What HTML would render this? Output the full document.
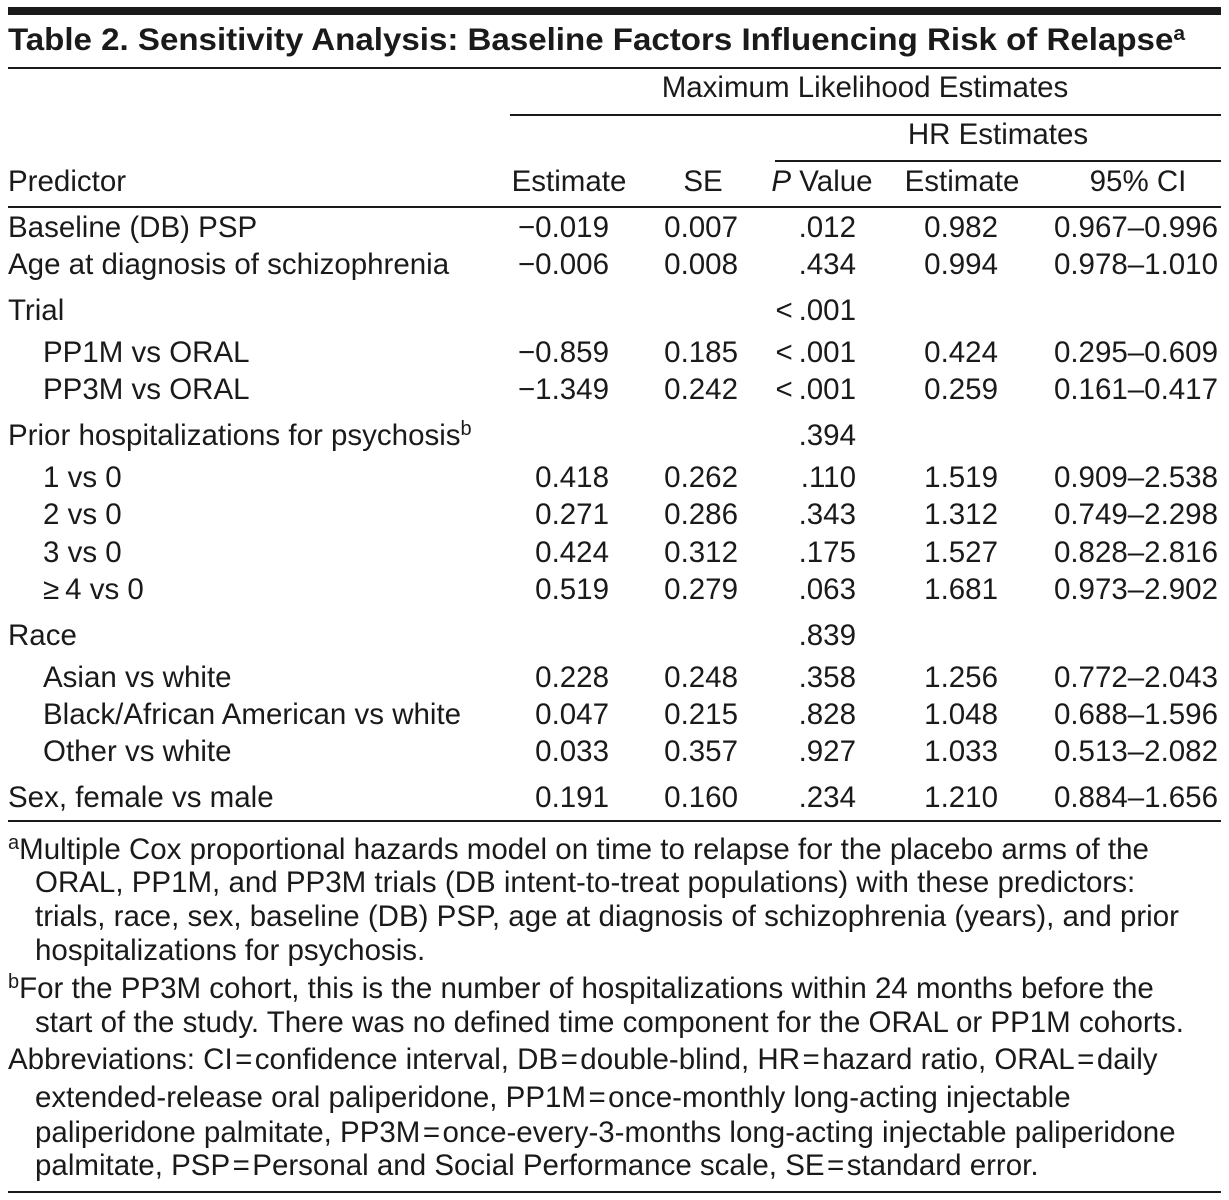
<!DOCTYPE html>
<html><head><meta charset="utf-8"><style>
body{margin:0;background:#fff;width:1229px;height:1200px;position:relative;overflow:hidden;font-family:"Liberation Sans",sans-serif;color:#1a1a1a}
.t,.r,.c{position:absolute;white-space:nowrap;font-size:29.5px;line-height:34px;transform:scaleX(1.0)}
.t{transform-origin:left center}
.r{transform-origin:right center}
.c{transform-origin:center center;text-align:center;width:500px;margin-left:-250px}
.h{position:absolute;background:#1a1a1a}
sup{font-size:20px;vertical-align:10px;line-height:0}
</style></head><body>
<div class="h" style="left:8px;top:7px;width:1213px;height:8px"></div>
<div class="t" style="left:8px;top:19px;font-size:31.5px;line-height:40px;font-weight:bold;transform:scaleX(1.05)">Table 2. Sensitivity Analysis: Baseline Factors Influencing Risk of Relapse<sup>a</sup></div>
<div class="h" style="left:8px;top:67px;width:1213px;height:2px"></div>
<div class="c" style="left:865px;top:71px">Maximum Likelihood Estimates</div>
<div class="h" style="left:510px;top:114px;width:711px;height:2px"></div>
<div class="c" style="left:998px;top:118px">HR Estimates</div>
<div class="h" style="left:775px;top:160px;width:446px;height:2px"></div>
<div class="t" style="left:8px;top:165px">Predictor</div>
<div class="c" style="left:569px;top:165px">Estimate</div>
<div class="c" style="left:703px;top:165px">SE</div>
<div class="c" style="left:822px;top:165px"><i>P</i> Value</div>
<div class="c" style="left:962px;top:165px">Estimate</div>
<div class="c" style="left:1138px;top:165px">95% CI</div>
<div class="h" style="left:8px;top:206px;width:1213px;height:2px"></div>

<div id="rows"></div>
<script>
var R=[[228,"Baseline (DB) PSP",0,"\u22120.019","0.007",".012","0.982","0.967\u20130.996"],
[265,"Age at diagnosis of schizophrenia",0,"\u22120.006","0.008",".434","0.994","0.978\u20131.010"],
[311,"Trial",0,"","","<\u2009.001","",""],
[353,"PP1M vs ORAL",1,"\u22120.859","0.185","<\u2009.001","0.424","0.295\u20130.609"],
[390,"PP3M vs ORAL",1,"\u22121.349","0.242","<\u2009.001","0.259","0.161\u20130.417"],
[436,"Prior hospitalizations for psychosis<sup>b</sup>",0,"","",".394","",""],
[478,"1 vs 0",1,"0.418","0.262",".110","1.519","0.909\u20132.538"],
[515,"2 vs 0",1,"0.271","0.286",".343","1.312","0.749\u20132.298"],
[553,"3 vs 0",1,"0.424","0.312",".175","1.527","0.828\u20132.816"],
[590,"\u2265\u20094 vs 0",1,"0.519","0.279",".063","1.681","0.973\u20132.902"],
[636,"Race",0,"","",".839","",""],
[678,"Asian vs white",1,"0.228","0.248",".358","1.256","0.772\u20132.043"],
[715,"Black/African American vs white",1,"0.047","0.215",".828","1.048","0.688\u20131.596"],
[752,"Other vs white",1,"0.033","0.357",".927","1.033","0.513\u20132.082"],
[798,"Sex, female vs male",0,"0.191","0.160",".234","1.210","0.884\u20131.656"]];
var ends=[609,738,856,998,1218],h="";
R.forEach(function(r){var top=r[0]-17;
h+='<div class="t" style="left:'+(r[2]?43:8)+'px;top:'+top+'px">'+r[1]+'</div>';
for(var i=0;i<5;i++){if(r[3+i])h+='<div class="r" style="right:'+(1229-ends[i])+'px;top:'+top+'px">'+r[3+i].replace("<","&lt;")+'</div>';}});
document.getElementById("rows").innerHTML=h;
</script>
<div class="h" style="left:8px;top:820px;width:1213px;height:2px"></div>
<div class="t" style="left:8px;top:833px"><sup>a</sup>Multiple Cox proportional hazards model on time to relapse for the placebo arms of the</div>
<div class="t" style="left:35px;top:866px">ORAL, PP1M, and PP3M trials (DB intent-to-treat populations) with these predictors:</div>
<div class="t" style="left:35px;top:900px">trials, race, sex, baseline (DB) PSP, age at diagnosis of schizophrenia (years), and prior</div>
<div class="t" style="left:35px;top:934px">hospitalizations for psychosis.</div>
<div class="t" style="left:8px;top:972px"><sup>b</sup>For the PP3M cohort, this is the number of hospitalizations within 24 months before the</div>
<div class="t" style="left:35px;top:1006px">start of the study. There was no defined time component for the ORAL or PP1M cohorts.</div>
<div class="t" style="left:8px;top:1043px">Abbreviations: CI&#8202;=&#8202;confidence interval, DB&#8202;=&#8202;double-blind, HR&#8202;=&#8202;hazard ratio, ORAL&#8202;=&#8202;daily</div>
<div class="t" style="left:35px;top:1081px">extended-release oral paliperidone, PP1M&#8202;=&#8202;once-monthly long-acting injectable</div>
<div class="t" style="left:35px;top:1116px">paliperidone palmitate, PP3M&#8202;=&#8202;once-every-3-months long-acting injectable paliperidone</div>
<div class="t" style="left:35px;top:1149px">palmitate, PSP&#8202;=&#8202;Personal and Social Performance scale, SE&#8202;=&#8202;standard error.</div>
<div class="h" style="left:8px;top:1191px;width:1213px;height:2px"></div>
</body></html>
